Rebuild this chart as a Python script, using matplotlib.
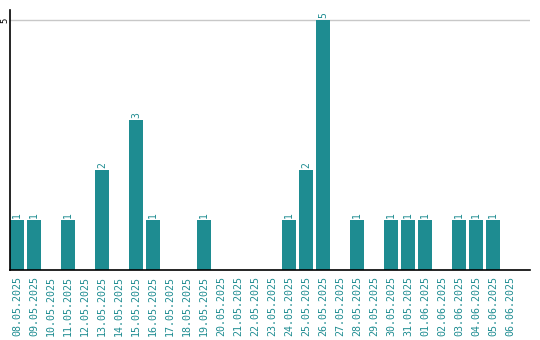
import numpy as np
import matplotlib
matplotlib.use("Agg")
import matplotlib.pyplot as plt

DATES = ["08.05.2025", "09.05.2025", "10.05.2025", "11.05.2025", "12.05.2025",
         "13.05.2025", "14.05.2025", "15.05.2025", "16.05.2025", "17.05.2025",
         "18.05.2025", "19.05.2025", "20.05.2025", "21.05.2025", "22.05.2025",
         "23.05.2025", "24.05.2025", "25.05.2025", "26.05.2025", "27.05.2025",
         "28.05.2025", "29.05.2025", "30.05.2025", "31.05.2025", "01.06.2025",
         "02.06.2025", "03.06.2025", "04.06.2025", "05.06.2025", "06.06.2025"]
COUNTS = [1, 1, 0, 1, 0, 2, 0, 3, 1, 0, 0, 1, 0, 0, 0,
          0, 1, 2, 5, 0, 1, 0, 1, 1, 1, 0, 1, 1, 1, 0]
Y_TICKS = [5]

TEAL = "#1e8c91"
W = 14 / 17


def main():
    fig = plt.figure(figsize=(5.4, 3.4), dpi=100)
    ax = fig.add_axes([10 / 540, 70 / 340, 520 / 540, 260 / 340])
    x = np.arange(len(DATES))
    ax.bar(x, COUNTS, width=W, align="edge", color=TEAL, zorder=2)
    for xi, v in zip(x, COUNTS):
        if v > 0:
            ax.text(xi + W / 2, v + 0.04, str(v), rotation=90, ha="center",
                    va="bottom", color=TEAL, fontsize=7,
                    family="DejaVu Sans Mono")
    ax.set_xlim(0, 520 / 17)
    ax.set_ylim(0, 5.2)
    ax.set_xticks(x + W / 2)
    ax.set_xticklabels(DATES, rotation=90, color=TEAL, fontsize=7.2,
                       family="DejaVu Sans Mono")
    ax.set_yticks(Y_TICKS)
    ax.set_yticklabels([str(t) for t in Y_TICKS], rotation=90, fontsize=6.5,
                       va="center", family="DejaVu Sans Mono")
    ax.tick_params(length=0)
    ax.tick_params(axis="x", pad=4.5)
    ax.tick_params(axis="y", pad=0.5)
    ax.grid(axis="y", color="#c8c8c8", lw=1, zorder=1)
    for sp in ("top", "right"):
        ax.spines[sp].set_visible(False)
    for sp in ("left", "bottom"):
        ax.spines[sp].set_linewidth(1.2)
        ax.spines[sp].set_color("black")
    fig.savefig("out.png", dpi=100)


if __name__ == "__main__":
    main()
